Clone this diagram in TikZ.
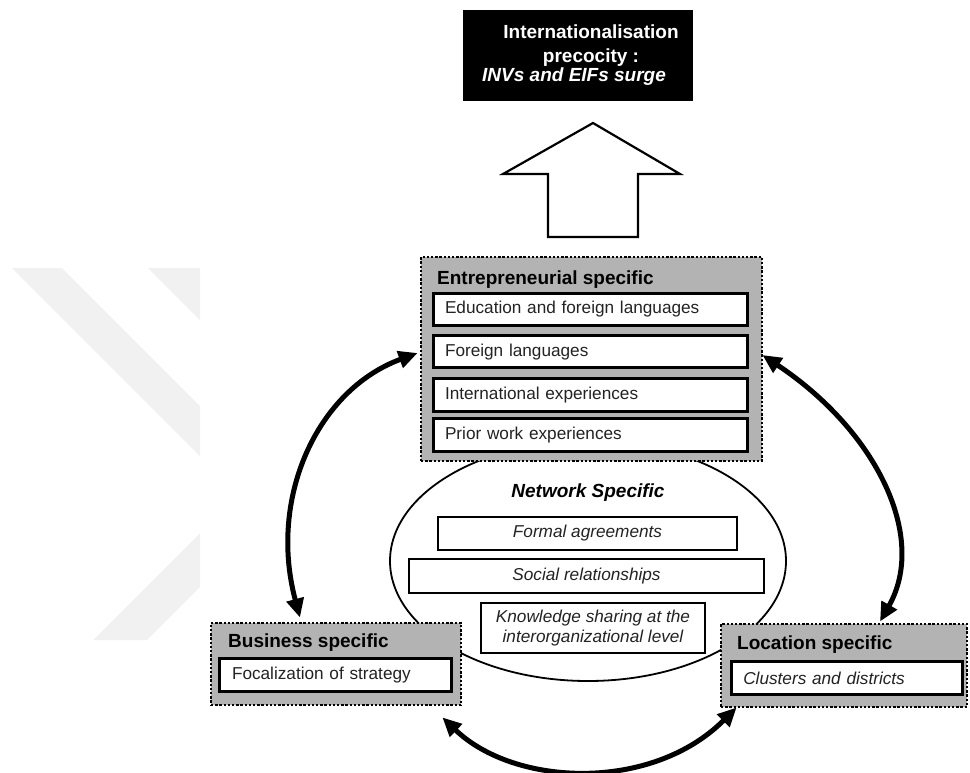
\documentclass[tikz,border=0pt]{standalone}
\usepackage{fontspec}
\setmainfont{Liberation Sans}
\usetikzlibrary{arrows.meta,calc,shapes.geometric}

\definecolor{panelgray}{RGB}{179,179,179}
\definecolor{markgray}{RGB}{241,241,241}
\definecolor{inktext}{RGB}{35,35,35}
\newcommand{\headsize}{\fontsize{19}{23}\selectfont}
\newcommand{\itemsize}{\fontsize{17.2}{20}\selectfont}

\begin{document}
\begin{tikzpicture}[x=1pt,y=-1pt,
  panel/.style={draw=black, line width=2.8pt, dash pattern=on 2.4pt off 1.8pt,
    fill=panelgray, inner sep=0pt},
  paneltitle/.style={anchor=base west, inner sep=0pt, font=\headsize\bfseries},
  itembox/.style={draw=black, line width=3pt, fill=white, inner ysep=0pt,
    inner xsep=11.5pt, align=left, font=\itemsize, text=inktext,
    minimum height=32.5pt},
  netbox/.style={draw=black, line width=2.4pt, fill=white, inner sep=0pt,
    align=center, font=\itemsize\itshape, text=inktext},
  link/.style={line width=5pt,
    {Triangle[length=19pt,width=17pt]}-{Triangle[length=19pt,width=17pt]}},
  goaltext/.style={inner sep=0pt, text=white, font=\headsize\bfseries},
]
\useasboundingbox (0,0) rectangle (970,772);

% faint chevron mark in the left margin
\fill[markgray] (12,268) -- (62,268) -- (200,406) -- (200,456) -- cycle;
\fill[markgray] (148,268) -- (200,268) -- (200,320) -- cycle;
\fill[markgray] (200,533) -- (200,587) -- (147,640) -- (93,640) -- cycle;

% network ellipse (partly hidden by the panels)
\node[draw=black, line width=1.8pt, ellipse, inner sep=0pt,
      minimum width=396pt, minimum height=240pt] (net) at (588,561) {};
\node[anchor=base, inner sep=0pt, font=\headsize\bfseries\itshape]
      (netT) at (588,497) {Network Specific};
\node[netbox, minimum width=299pt, minimum height=33pt] (n1) at (587.5,533.5)
      {Formal agreements};
\node[netbox, minimum width=355pt, minimum height=34pt] (n2) at (586.5,576)
      {Social relationships};
\node[netbox, minimum width=224pt, minimum height=50pt] (n3) at (593,628)
      {Knowledge sharing at the\\interorganizational level};

% entrepreneurial panel
\node[panel, minimum width=341pt, minimum height=204pt] (ent) at (591.5,359) {};
\node[paneltitle] (entT) at (437,284) {Entrepreneurial specific};
\node[itembox, text width=291pt] (e1) at (590.5,309.5) {Education and foreign languages};
\node[itembox, text width=291pt] (e2) at (590.5,351.7) {Foreign languages};
\node[itembox, text width=291pt] (e3) at (590.5,394.8) {International experiences};
\node[itembox, text width=291pt] (e4) at (590.5,435) {Prior work experiences};

% business panel
\node[panel, minimum width=250pt, minimum height=82pt] (bus) at (336,664) {};
\node[paneltitle] (busT) at (228,647) {Business specific};
\node[itembox, inner xsep=12.5pt, text width=207pt, minimum height=33pt]
      (b1) at (335.5,675) {Focalization of strategy};

% location panel
\node[panel, minimum width=246pt, minimum height=83pt] (loc) at (844,665.5) {};
\node[paneltitle] (locT) at (737,649) {Location specific};
\node[itembox, inner xsep=11.8pt, text width=207.4pt, minimum height=33pt,
      font=\itemsize\itshape] (l1) at (847,678) {Clusters and districts};

% outcome box
\node[fill=black, inner sep=0pt, minimum width=230pt, minimum height=91pt]
      (goal) at (578,55.5) {};
\node[goaltext, anchor=base] (g1) at (591,38.7) {Internationalisation};
\node[goaltext, anchor=base] (g2) at (591,62.7) {precocity :};
\node[goaltext, anchor=base west, font=\headsize\bfseries\itshape]
      (g3) at (482,81.7) {INVs and EIFs surge};

% hollow block arrow from the entrepreneurial panel up to the outcome
\draw[line width=2.2pt, fill=white, miter limit=10]
  (548,237) -- (548,174) -- (503,174) -- (593,123) -- (680,174)
  -- (638,174) -- (638,237) -- cycle;

% two-way links between the panels
\draw[link] ($(bus.north)+(-36,-4)$) .. controls (268,498) and (317,390)
  .. ($(ent.west)+(-2,-6)$);
\draw[link] ($(ent.east)+(-1,-4)$) .. controls (876.5,431) and (928,537)
  .. ($(loc.north)+(36,-1)$);
\draw[link] ($(bus.south east)+(-20,11)$) .. controls (515,787) and (652,792)
  .. ($(loc.south west)+(17,-1)$);
\end{tikzpicture}
\end{document}
